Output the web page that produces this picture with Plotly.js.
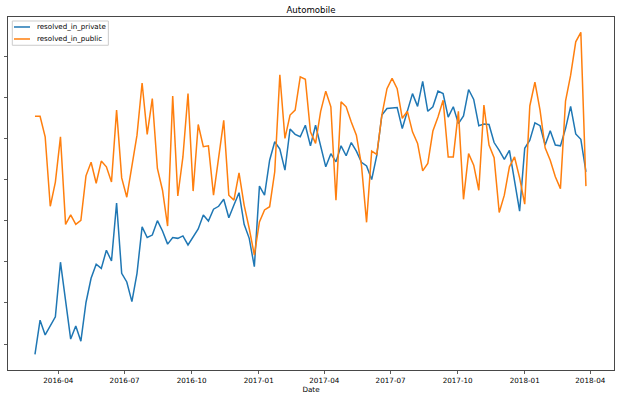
<!DOCTYPE html>
<html>
<head>
<meta charset="utf-8">
<script src="https://cdn.plot.ly/plotly-3.0.1.min.js"></script>
<style>html,body{margin:0;padding:0;background:#fff;}#chart{width:621px;height:398px;}</style>
</head>
<body>
<div id="chart"></div>
<script>
const dates = [
"2016-02-29","2016-03-07","2016-03-14","2016-03-21","2016-03-28","2016-04-04","2016-04-11","2016-04-18","2016-04-25",
"2016-05-02","2016-05-09","2016-05-16","2016-05-23","2016-05-30","2016-06-06","2016-06-13","2016-06-20","2016-06-27",
"2016-07-04","2016-07-11","2016-07-18","2016-07-25","2016-08-01","2016-08-08","2016-08-15","2016-08-22","2016-08-29",
"2016-09-05","2016-09-12","2016-09-19","2016-09-26","2016-10-03","2016-10-10","2016-10-17","2016-10-24","2016-10-31",
"2016-11-07","2016-11-14","2016-11-21","2016-11-28","2016-12-05","2016-12-12","2016-12-19","2016-12-26",
"2017-01-02","2017-01-09","2017-01-16","2017-01-23","2017-01-30","2017-02-06","2017-02-13","2017-02-20","2017-02-27",
"2017-03-06","2017-03-13","2017-03-20","2017-03-27","2017-04-03","2017-04-10","2017-04-17","2017-04-24",
"2017-05-01","2017-05-08","2017-05-15","2017-05-22","2017-05-29","2017-06-05","2017-06-12","2017-06-19","2017-06-26",
"2017-07-03","2017-07-10","2017-07-17","2017-07-24","2017-07-31","2017-08-07","2017-08-14","2017-08-21","2017-08-28",
"2017-09-04","2017-09-11","2017-09-18","2017-09-25","2017-10-02","2017-10-09","2017-10-16","2017-10-23","2017-10-30",
"2017-11-06","2017-11-13","2017-11-20","2017-11-27","2017-12-04","2017-12-11","2017-12-18","2017-12-25",
"2018-01-01","2018-01-08","2018-01-15","2018-01-22","2018-01-29","2018-02-05","2018-02-12","2018-02-19","2018-02-26",
"2018-03-05","2018-03-12","2018-03-19","2018-03-26"
];
const resolvedInPrivate = [
7.5, 15.8, 12.2, 14.4, 16.6, 29.9, 21.1, 11.2, 14.4, 10.7,
20.1, 26.0, 29.4, 28.4, 32.8, 30.2, 44.3, 27.2, 25.1, 20.3,
27.2, 38.5, 35.9, 36.5, 40.0, 37.5, 34.3, 35.9, 35.7, 36.3,
34.1, 36.1, 38.0, 41.4, 39.9, 42.8, 43.5, 45.2, 40.7, 43.8,
46.8, 39.1, 35.7, 28.8, 48.4, 46.2, 54.7, 59.2, 57.4, 52.3,
62.3, 61.0, 60.4, 63.2, 58.2, 63.2, 58.4, 53.1, 56.3, 54.3,
58.2, 55.8, 59.0, 56.9, 54.2, 53.3, 50.0, 55.9, 65.7, 67.3,
67.4, 67.5, 62.4, 66.6, 70.9, 67.8, 73.9, 66.6, 67.7, 71.5,
70.9, 65.2, 67.7, 63.6, 65.5, 71.9, 69.5, 63.1, 63.5, 63.4,
59.0, 57.1, 54.9, 57.1, 49.9, 42.3, 57.6, 59.6, 63.8, 63.1,
58.4, 61.9, 58.4, 58.2, 62.4, 67.8, 61.1, 59.8, 51.9
];
const resolvedInPublic = [
65.4, 65.4, 60.4, 43.5, 49.4, 60.4, 39.1, 41.4, 39.1, 40.1,
50.9, 54.2, 49.1, 54.5, 53.1, 49.4, 66.9, 50.4, 45.7, 53.5,
60.8, 73.5, 61.0, 69.7, 52.7, 47.4, 38.7, 70.3, 46.0, 55.5,
70.9, 47.2, 63.4, 58.0, 58.2, 46.2, 55.9, 64.4, 46.2, 45.0,
51.6, 43.8, 38.1, 31.6, 39.7, 42.6, 43.4, 51.9, 75.5, 60.0,
65.7, 66.9, 75.0, 74.4, 61.6, 58.8, 66.6, 71.5, 67.7, 45.0,
68.9, 67.7, 64.0, 60.8, 53.5, 39.6, 56.9, 56.1, 65.7, 72.1,
74.6, 72.1, 64.9, 66.6, 61.6, 58.8, 52.1, 53.9, 61.8, 65.2,
69.3, 55.5, 55.5, 66.6, 45.2, 56.3, 53.5, 47.4, 68.1, 58.4,
55.3, 42.0, 46.2, 53.1, 55.5, 50.4, 44.0, 67.9, 73.7, 66.9,
57.7, 54.7, 50.7, 47.8, 69.1, 75.4, 83.5, 85.8, 48.4
];
const seriesNames = ["resolved_in_private", "resolved_in_public"];
const seriesColors = ["#1f77b4", "#ff7f0e"];
const xTickVals = ["2016-04-01","2016-07-01","2016-10-01","2017-01-01","2017-04-01","2017-07-01","2017-10-01","2018-01-01","2018-04-01"];
const xTickText = ["2016-04","2016-07","2016-10","2017-01","2017-04","2017-07","2017-10","2018-01","2018-04"];
const yTickVals = [10, 20, 30, 40, 50, 60, 70, 80];

const FONT = "DejaVu Sans, sans-serif";
const traces = [resolvedInPrivate, resolvedInPublic].map((vals, k) => ({
  type: "scatter", mode: "lines", x: dates, y: vals, name: seriesNames[k],
  line: {color: seriesColors[k], width: 1.5}, showlegend: false, hoverinfo: "skip"
}));

// legend drawn matplotlib-style
const legRowY = [0.9717, 0.9377];
const shapes = [{type: "rect", xref: "paper", yref: "paper", x0: 0.0071, x1: 0.1656, y0: 0.9199, y1: 0.9887,
  fillcolor: "rgba(255,255,255,0.8)", line: {color: "#cccccc", width: 1}, layer: "above"}];
const annotations = [];
seriesNames.forEach((n, k) => {
  shapes.push({type: "line", xref: "paper", yref: "paper", x0: 0.0099, x1: 0.0363, y0: legRowY[k], y1: legRowY[k],
    line: {color: seriesColors[k], width: 1.5}, layer: "above"});
  annotations.push({xref: "paper", yref: "paper", x: 0.0442, y: legRowY[k], xanchor: "left", yanchor: "middle",
    text: n, showarrow: false, font: {family: FONT, size: 7.1, color: "#000"}});
});

const layout = {
  width: 621, height: 398,
  margin: {l: 8, r: 7, t: 17, b: 28, pad: 0},
  paper_bgcolor: "#fff", plot_bgcolor: "#fff",
  font: {family: FONT, size: 7.2, color: "#000"},
  title: {text: "Automobile", font: {family: FONT, size: 8.6, color: "#000"}, x: 0.5, xref: "paper", y: 0.976, yref: "container", yanchor: "middle"},
  xaxis: {
    type: "date", range: ["2016-01-23", "2018-05-03 12:00"],
    tickvals: xTickVals, ticktext: xTickText, ticks: "outside", ticklen: 3.5, tickwidth: 0.8, tickcolor: "#333",
    showgrid: false, zeroline: false, showline: true, linecolor: "#333", linewidth: 0.9, mirror: true,
    tickfont: {family: FONT, size: 7.2, color: "#000"},
    title: {text: "Date", font: {family: FONT, size: 7.2, color: "#000"}, standoff: 2},
    automargin: false
  },
  yaxis: {
    range: [3.68, 89.54], tickvals: yTickVals, showticklabels: false, ticks: "outside", ticklen: 3.5, tickwidth: 0.8, tickcolor: "#333",
    showgrid: false, zeroline: false, showline: true, linecolor: "#333", linewidth: 0.9, mirror: true,
    automargin: false
  },
  shapes: shapes, annotations: annotations, showlegend: false
};
Plotly.newPlot("chart", traces, layout, {staticPlot: true, displayModeBar: false});
</script>
</body>
</html>
